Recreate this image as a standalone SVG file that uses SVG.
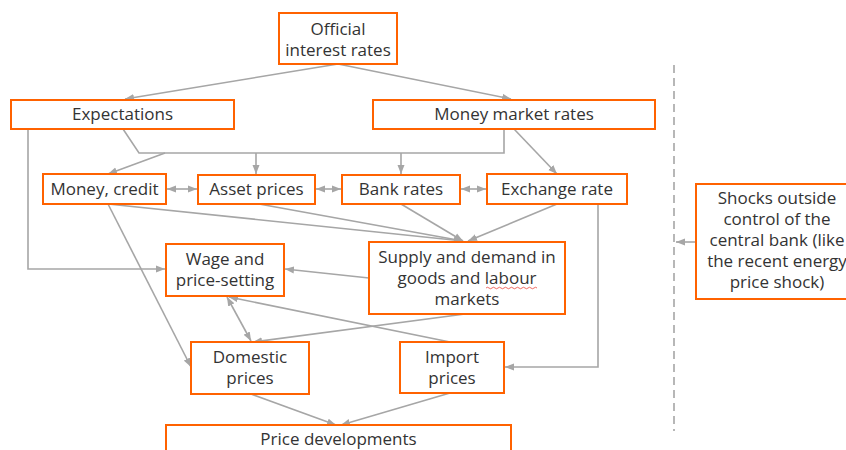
<svg xmlns="http://www.w3.org/2000/svg" width="846" height="450" viewBox="0 0 846 450">
<style>
.box{fill:#fff;stroke:#ff6200;stroke-width:2}
.t{font-family:"Open Sans","Noto Sans",sans-serif;font-size:17px;fill:#333;text-anchor:middle}
.c{fill:none;stroke:#a6a6a6;stroke-width:1.6}
.a{marker-end:url(#ah)}
.d{marker-start:url(#ah);marker-end:url(#ah)}
</style>
<defs>
<marker id="ah" markerUnits="userSpaceOnUse" markerWidth="10" markerHeight="8" refX="9" refY="4" orient="auto-start-reverse">
<path d="M0,0.5 L9,4 L0,7.5 z" fill="#a6a6a6"/>
</marker>
</defs>
<rect width="846" height="450" fill="#fff"/>
<g id="connectors">
<path class="c a" d="M338,64 L125,99"/>
<path class="c a" d="M338,64 L511,99"/>
<path class="c" d="M123,129 L139,153 L504,153 L504,129"/>
<path class="c a" d="M165,153 L108,174"/>
<path class="c a" d="M256,153 L256,174"/>
<path class="c a" d="M401,153 L401,174"/>
<path class="c a" d="M514,129 L557,174"/>
<path class="c d" d="M167,189 L197,189"/>
<path class="c d" d="M316,189 L341,189"/>
<path class="c d" d="M461,189 L486,189"/>
<path class="c a" d="M28,129 L28,269 L165,269"/>
<path class="c a" d="M108,204 L463,241"/>
<path class="c a" d="M259,204 L463,241"/>
<path class="c a" d="M401,204 L463,241"/>
<path class="c a" d="M557,204 L468,241"/>
<path class="c a" d="M108,204 L191,367"/>
<path class="c a" d="M369,278 L285,269"/>
<path class="c d" d="M227,297 L251,341"/>
<path class="c a" d="M450,342 L229,297"/>
<path class="c a" d="M465,314 L253,342"/>
<path class="c a" d="M598,204 L598,367 L505,367"/>
<path class="c a" d="M251,394 L336,425"/>
<path class="c a" d="M450,393 L341,425"/>
<path class="c a" d="M696,242 L676,242"/>
<path d="M674,65 L674,431" fill="none" stroke="#a6a6a6" stroke-width="1.6" stroke-dasharray="8,5"/>
</g>
<g id="official"><rect class="box" x="279" y="13" width="118" height="51"/><text class="t" x="338" y="35">Official</text><text class="t" x="338" y="56">interest rates</text></g>
<g id="expectations"><rect class="box" x="11" y="100" width="223" height="29"/><text class="t" x="122.5" y="120">Expectations</text></g>
<g id="money-market"><rect class="box" x="373" y="100" width="282" height="29"/><text class="t" x="514" y="120">Money market rates</text></g>
<g id="money-credit"><rect class="box" x="43" y="174" width="123" height="30"/><text class="t" x="104.5" y="195">Money, credit</text></g>
<g id="asset-prices"><rect class="box" x="198" y="175" width="117" height="29"/><text class="t" x="256.5" y="195">Asset prices</text></g>
<g id="bank-rates"><rect class="box" x="342" y="175" width="118" height="29"/><text class="t" x="401" y="195">Bank rates</text></g>
<g id="exchange-rate"><rect class="box" x="487" y="174" width="140" height="30"/><text class="t" x="557" y="195">Exchange rate</text></g>
<g id="wage"><rect class="box" x="166" y="244" width="118" height="52"/><text class="t" x="225" y="265">Wage and</text><text class="t" x="225" y="286">price-setting</text></g>
<g id="supply-demand"><rect class="box" x="369" y="242" width="196" height="72"/><text class="t" x="467" y="263">Supply and demand in</text><text class="t" x="467" y="284">goods and labour</text><text class="t" x="467" y="305">markets</text><path d="M486,288 q1.5,-1.5 3,0 t3,0 t3,0 t3,0 t3,0 t3,0 t3,0 t3,0 t3,0 t3,0 t3,0 t3,0 t3,0 t3,0 t3,0 t3,0 t3,0" fill="none" stroke="#e8453c" stroke-width="0.8"/></g>
<g id="domestic"><rect class="box" x="191" y="342" width="118" height="52"/><text class="t" x="250" y="363">Domestic</text><text class="t" x="250" y="384">prices</text></g>
<g id="import"><rect class="box" x="400" y="342" width="104" height="51"/><text class="t" x="452" y="363">Import</text><text class="t" x="452" y="384">prices</text></g>
<g id="price-developments"><rect class="box" x="166" y="425" width="345" height="40"/><text class="t" x="338.5" y="445">Price developments</text></g>
<g id="shocks"><rect class="box" x="696" y="184" width="170" height="115"/><text class="t" x="777" y="204">Shocks outside</text><text class="t" x="777" y="225">control of the</text><text class="t" x="777" y="246">central bank (like</text><text class="t" x="777" y="267">the recent energy</text><text class="t" x="777" y="288">price shock)</text></g>
</svg>
